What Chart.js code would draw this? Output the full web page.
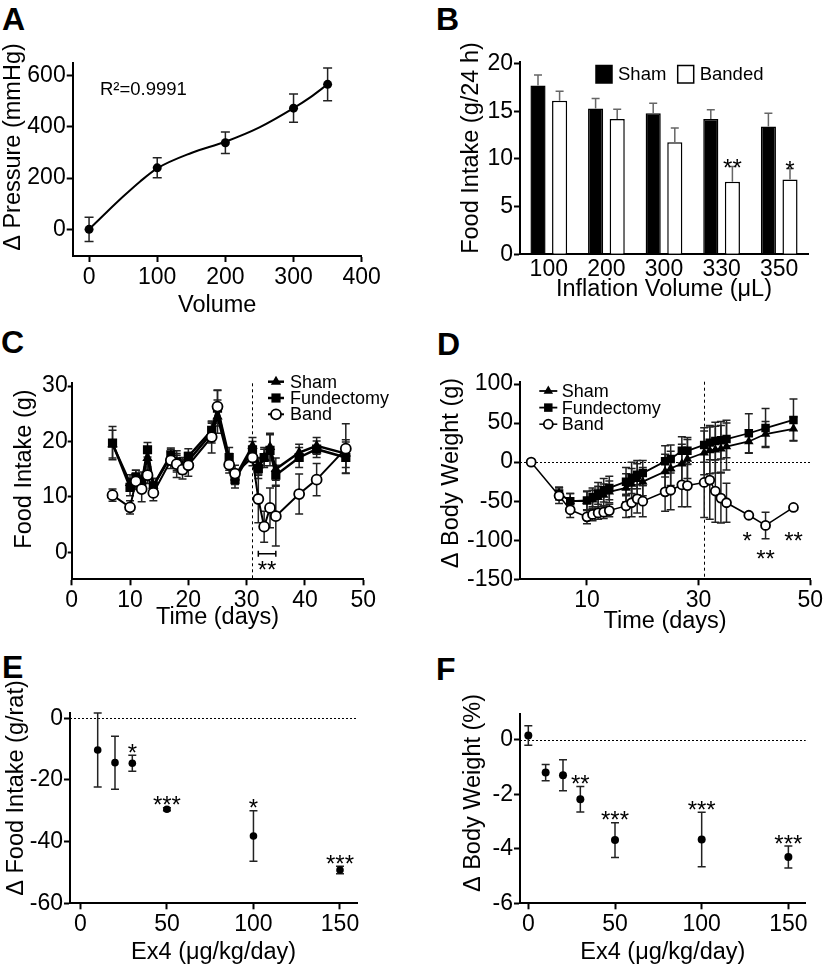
<!DOCTYPE html>
<html>
<head>
<meta charset="utf-8">
<title>Figure</title>
<script src="https://cdn.jsdelivr.net/npm/chart.js@4.4.0/dist/chart.umd.min.js"></script>
<style>
  body { margin: 0; background: #fff; }
  #fig { position: relative; width: 825px; height: 965px; overflow: hidden; font-family: "Liberation Sans", Arial, sans-serif; }
  #fig canvas { position: absolute; }
  .tag { position: absolute; font-weight: bold; font-size: 32px; line-height: 32px; color: #000; }
</style>
</head>
<body>
<div id="fig">
  <div class="tag" style="left:2px;top:3px">A</div>
  <div class="tag" style="left:436px;top:3px">B</div>
  <div class="tag" style="left:1px;top:326px">C</div>
  <div class="tag" style="left:437px;top:328px">D</div>
  <div class="tag" style="left:2px;top:651px">E</div>
  <div class="tag" style="left:436px;top:653px">F</div>
  <canvas id="chartA" width="410" height="320" style="left:0;top:0"></canvas>
  <canvas id="chartB" width="415" height="320" style="left:410px;top:0"></canvas>
  <canvas id="chartC" width="410" height="320" style="left:0;top:320px"></canvas>
  <canvas id="chartD" width="415" height="320" style="left:410px;top:320px"></canvas>
  <canvas id="chartE" width="410" height="325" style="left:0;top:640px"></canvas>
  <canvas id="chartF" width="415" height="325" style="left:410px;top:640px"></canvas>
</div>
<script>
// ---- data ----
// A: pressure vs volume
const volA = [0, 100, 200, 300, 350];
const pressA = [0, 240, 338, 473, 566];
const pressErrA = [47, 39, 42, 55, 64];
// fitted curve
const fitVolA = [0, 25, 50, 75, 100, 150, 200, 250, 300, 325, 350];
const fitPressA = [0, 65, 128, 187, 238, 298, 342, 398, 473, 516, 566];

// B: food intake by inflation volume
const volB = ['100', '200', '300', '330', '350'];
const shamB = [17.7, 15.3, 14.8, 14.2, 13.4];
const shamErrB = [1.1, 1.05, 1.05, 0.95, 1.4];
const bandedB = [16.1, 14.2, 11.75, 7.6, 7.85];
const bandedErrB = [1.0, 1.0, 1.5, 1.6, 1.15];
const sigB = ['', '', '', '**', '*'];

// C: food intake over time
const daysC = [7, 10, 11, 12, 13, 14, 17, 18, 19, 20, 24, 25, 27, 28, 31, 32, 33, 34, 35, 39, 42, 47];
const shamC = [19.5, 12.5, 13.5, 13, 17, 12, 17.3, 16, 15.5, 16.5, 21.5, 24.5, 16.3, 13.5, 19.2, 15.6, 17.1, 19, 15, 18, 19.2, 17.8];
const shamErrC = [2.5, 1.5, 1.3, 1.5, 2, 1.3, 1.3, 1.5, 1.3, 1.5, 1.8, 3, 1.5, 1.3, 1.5, 1.5, 1.5, 2.5, 2, 1.5, 1.5, 2.5];
const fundC = [19.7, 11.7, 13.5, 12.5, 18.5, 12, 17.6, 16.3, 15.6, 17.3, 22, 26, 17.1, 13.1, 18.5, 15.1, 17.1, 18.4, 13.9, 17.1, 18.6, 17.1];
const fundErrC = [3, 1.5, 1.3, 1.4, 1.3, 1.3, 1.2, 1.5, 1.5, 1.4, 1.5, 3.2, 1.8, 1.5, 1.5, 1.8, 1.8, 2.8, 1.8, 1.8, 1.5, 2.8];
const bandC = [10.3, 8.1, 12.8, 11.4, 13.9, 10.7, 16.6, 15.9, 14.9, 15.7, 20.8, 26.3, 15.8, 14.2, 17.1, 9.6, 4.6, 8.0, 6.5, 10.5, 13.1, 18.7];
const bandErrC = [1.1, 1.2, 1.5, 2.3, 1.5, 1.4, 1.5, 2.4, 1.7, 2.0, 2.9, 3.0, 1.5, 1.5, 1.5, 4.3, 2.8, 3.6, 5.4, 3.6, 2.9, 4.5];

// D: body weight change over time
const daysD = [5, 7, 10, 11, 12, 13, 14, 17, 18, 19, 20, 24, 25, 27, 28, 31, 32, 33, 34, 35, 39, 42, 47];
const shamD = [-40, -50, -50, -48, -45, -42, -38, -33, -28, -22, -25, -12, -8, -2, 4, 12, 15, 16, 17, 20, 26.5, 36, 42.7];
const shamErrD = [8, 10, 12, 12, 14, 14, 14, 18, 20, 20, 18, 22, 22, 25, 25, 28, 30, 30, 30, 30, 15, 16, 15];
const fundD = [-40, -50, -49, -45, -40, -36, -33, -25, -20, -16, -14, 1, 4, 14.5, 14.5, 22, 25, 27, 28, 29.5, 37, 43.6, 54];
const fundErrD = [8, 10, 12, 12, 14, 15, 15, 18, 20, 18, 16, 20, 18, 18, 17, 22, 22, 24, 24, 24, 25, 25, 27];
const bandDaysD = [0, 5, 7, 10, 11, 12, 13, 14, 17, 18, 19, 20, 24, 25, 27, 28, 31, 32, 33, 34, 35, 39, 42, 47];
const bandD = [0, -43, -61, -70, -67, -65, -64, -62, -56, -52, -47, -50, -38, -36, -29, -30, -26, -23, -37, -46, -52, -68, -81, -58];
const bandErrD = [0, 10, 10, 9, 8, 8, 8, 8, 15, 18, 18, 20, 25, 25, 28, 27, 45, 50, 40, 32, 25, 0, 17, 0];

// E: food intake vs Ex4 dose
const doseE = [10, 20, 30, 50, 100, 150];
const foodE = [-10.3, -14.4, -14.6, -29.5, -38.2, -49.2];
const foodErrE = [12, 8.6, 2.6, 0.5, 8.2, 1.2];
const sigE = ['', '', '*', '***', '*', '***'];

// F: body weight vs Ex4 dose
const doseF = [0, 10, 20, 30, 50, 100, 150];
const bwF = [0.16, -1.2, -1.3, -2.18, -3.68, -3.66, -4.3];
const bwErrF = [0.36, 0.3, 0.57, 0.47, 0.64, 1.0, 0.4];
const sigF = ['', '', '', '**', '***', '***', '***'];

// ---- helpers ----
const FONT = '"Liberation Sans", Arial, Helvetica, sans-serif';
const STAR = 24;
const TITLE = 23.5;
Chart.defaults.font.family = FONT;
Chart.defaults.color = '#000';
Chart.defaults.animation = false;

const xy = (xs, ys) => xs.map((v, i) => ({ x: v, y: ys[i] }));
const val = d => (typeof d === 'object' ? d.y : d);

function marker(ctx, style, x, y, r, fill, bw) {
  ctx.save();
  ctx.fillStyle = fill; ctx.strokeStyle = '#000'; ctx.lineWidth = bw;
  ctx.beginPath();
  if (style === 'rect') {
    const s = Math.SQRT1_2 * r;
    ctx.rect(x - s, y - s, 2 * s, 2 * s);
  } else if (style === 'triangle') {
    ctx.moveTo(x, y - r);
    ctx.lineTo(x + 0.866 * r, y + 0.5 * r);
    ctx.lineTo(x - 0.866 * r, y + 0.5 * r);
    ctx.closePath();
  } else {
    ctx.arc(x, y, r, 0, Math.PI * 2);
  }
  ctx.fill();
  if (bw) ctx.stroke();
  ctx.restore();
}

function errorBars(chart, i) {
  const ds = chart.data.datasets[i], meta = chart.getDatasetMeta(i);
  const ys = chart.scales.y, ctx = chart.ctx, cap = ds.errCap || 4;
  ctx.save();
  ctx.strokeStyle = ds.errColor || '#222';
  ctx.lineWidth = ds.errWidth || 1.5;
  meta.data.forEach((el, j) => {
    const e = ds.err[j];
    if (!e) return;
    const v = val(ds.data[j]);
    const top = ys.getPixelForValue(v + e);
    const bot = ds.errUp ? el.y : ys.getPixelForValue(v - e);
    ctx.beginPath();
    ctx.moveTo(el.x, top); ctx.lineTo(el.x, bot);
    ctx.moveTo(el.x - cap, top); ctx.lineTo(el.x + cap, top);
    if (!ds.errUp) { ctx.moveTo(el.x - cap, bot); ctx.lineTo(el.x + cap, bot); }
    ctx.stroke();
  });
  ctx.restore();
}

function stars(chart, i, gap) {
  const ds = chart.data.datasets[i], meta = chart.getDatasetMeta(i);
  const ys = chart.scales.y, ctx = chart.ctx;
  ctx.font = STAR + 'px ' + FONT;
  ctx.textAlign = 'center'; ctx.textBaseline = 'alphabetic'; ctx.fillStyle = '#000';
  meta.data.forEach((el, j) => {
    const s = ds.sig[j];
    if (!s) return;
    const top = ys.getPixelForValue(val(ds.data[j]) + (ds.err ? ds.err[j] : 0));
    ctx.fillText(s, el.x, top - gap + 0.44 * STAR);
  });
}

function drawLegend(chart, L) {
  const ctx = chart.ctx;
  ctx.font = L.size + 'px ' + FONT;
  ctx.textAlign = 'left'; ctx.textBaseline = 'middle';
  L.items.forEach((i, k) => {
    const ds = chart.data.datasets[i];
    if (L.box) {
      const bx = L.x + k * L.dx, by = L.y;
      ctx.fillStyle = ds.backgroundColor; ctx.strokeStyle = '#000'; ctx.lineWidth = 1.5;
      ctx.fillRect(bx, by, L.w, L.h); ctx.strokeRect(bx, by, L.w, L.h);
      ctx.fillStyle = '#000';
      ctx.fillText(ds.label, bx + L.w + L.gap, by + L.h / 2 + 1);
    } else {
      const cy = L.y + k * L.dy;
      ctx.strokeStyle = '#000'; ctx.lineWidth = ds.borderWidth;
      ctx.beginPath(); ctx.moveTo(L.x - L.half, cy); ctx.lineTo(L.x + L.half, cy); ctx.stroke();
      marker(ctx, ds.pointStyle, L.x, cy, ds.pointRadius, ds.pointBackgroundColor, ds.pointBorderWidth);
      ctx.fillStyle = '#000';
      ctx.fillText(ds.label, L.tx, cy + 1);
    }
  });
}

const extras = {
  id: 'extras',
  beforeDatasetsDraw(chart, args, o) {
    const { ctx, chartArea: a, scales: { x, y } } = chart;
    ctx.save();
    ctx.lineWidth = 1; ctx.strokeStyle = '#000';
    (o.vlines || []).forEach(v => {
      const px = Math.round(x.getPixelForValue(v)) + 0.5;
      ctx.setLineDash([3, 3]);
      ctx.beginPath(); ctx.moveTo(px, a.top); ctx.lineTo(px, a.bottom); ctx.stroke();
    });
    (o.hlines || []).forEach(v => {
      const py = Math.round(y.getPixelForValue(v)) + 0.5;
      ctx.setLineDash([2, 2]);
      ctx.beginPath(); ctx.moveTo(a.left, py); ctx.lineTo(a.right, py); ctx.stroke();
    });
    ctx.setLineDash([]);
    ctx.restore();
    chart.data.datasets.forEach((ds, i) => { if (ds.err && !ds.errAbove) errorBars(chart, i); });
  },
  afterDatasetsDraw(chart, args, o) {
    const { ctx, scales: { x, y } } = chart;
    chart.data.datasets.forEach((ds, i) => {
      if (ds.err && ds.errAbove) errorBars(chart, i);
      if (ds.sig) stars(chart, i, o.starGap || 5);
    });
    ctx.save();
    ctx.fillStyle = '#000'; ctx.strokeStyle = '#000';
    ctx.font = STAR + 'px ' + FONT;
    ctx.textAlign = 'center'; ctx.textBaseline = 'alphabetic';
    (o.texts || []).forEach(t => {
      ctx.fillText(t.text, x.getPixelForValue(t.x), y.getPixelForValue(t.y) + 0.58 * STAR);
    });
    if (o.bracket) {
      const b = o.bracket, x1 = x.getPixelForValue(b.x1), x2 = x.getPixelForValue(b.x2);
      const py = y.getPixelForValue(b.y);
      ctx.lineWidth = 1.5;
      ctx.beginPath();
      ctx.moveTo(x1, py); ctx.lineTo(x2, py);
      ctx.moveTo(x1, py - 3); ctx.lineTo(x1, py + 3);
      ctx.moveTo(x2, py - 3); ctx.lineTo(x2, py + 3);
      ctx.stroke();
    }
    if (o.note) {
      ctx.font = o.note.size + 'px ' + FONT;
      ctx.textAlign = 'left'; ctx.textBaseline = 'middle';
      ctx.fillText(o.note.text, o.note.x, o.note.y);
    }
    if (o.ytitle) {
      // y axis title, centred where the original figure puts it
      ctx.save();
      ctx.translate(o.ytitle.x, o.ytitle.y);
      ctx.rotate(-Math.PI / 2);
      ctx.font = TITLE + 'px ' + FONT;
      ctx.textAlign = 'center'; ctx.textBaseline = 'middle';
      ctx.fillText(o.ytitle.text, 0, 0);
      ctx.restore();
    }
    if (o.legend) drawLegend(chart, o.legend);
    ctx.restore();
  }
};
Chart.register(extras);

function axis(o) {
  return {
    type: o.type || 'linear',
    min: o.min, max: o.max,
    offset: !!o.offset,
    afterBuildTicks: o.ticks ? s => { s.ticks = o.ticks.map(v => ({ value: v })); } : undefined,
    afterFit: s => { if (s.isHorizontal()) s.height = o.size; else s.width = o.size; },
    grid: { display: !o.noTicks, drawOnChartArea: false, drawTicks: !o.noTicks, tickLength: o.tickLen || 6, tickWidth: 2, tickColor: '#000' },
    border: { display: true, color: '#000', width: 2 },
    ticks: { font: { size: 23 }, color: '#000', padding: o.tickPad == null ? 2 : o.tickPad, autoSkip: false, maxRotation: 0 },
    title: { display: !!o.title, text: o.title, color: '#000', font: { size: TITLE }, padding: { top: o.titlePad, bottom: o.titlePad } }
  };
}

function base(pad, xAxis, yAxis, extra) {
  return {
    responsive: false,
    animation: false,
    events: [],
    layout: { padding: { top: pad[0], right: pad[1], bottom: 0, left: 0 } },
    scales: { x: xAxis, y: yAxis },
    plugins: { legend: { display: false }, tooltip: { enabled: false }, extras: extra || {} }
  };
}

// ---- A ----
new Chart(document.getElementById('chartA'), {
  type: 'line',
  data: {
    datasets: [
      {
        label: 'Pressure',
        data: xy(volA, pressA),
        err: pressErrA, errCap: 4.5,
        showLine: false,
        pointRadius: 4.5, pointBackgroundColor: '#000', pointBorderWidth: 0
      },
      {
        label: 'Fit',
        data: xy(fitVolA, fitPressA),
        borderColor: '#000', borderWidth: 2,
        cubicInterpolationMode: 'monotone',
        pointRadius: 0
      }
    ]
  },
  options: base([63.3, 48.3],
    axis({ min: -24, max: 400, ticks: [0, 100, 200, 300, 400], size: 64, title: 'Volume', titlePad: 0 }),
    axis({ min: -104, max: 648, ticks: [0, 200, 400, 600], size: 72.7, tickPad: 1 }),
    { note: { text: 'R²=0.9991', x: 100, y: 90, size: 18.5 },
      ytitle: { text: 'Δ Pressure (mmHg)', x: 14, y: 147 } })
});

// ---- B ----
new Chart(document.getElementById('chartB'), {
  type: 'bar',
  data: {
    labels: volB,
    datasets: [
      { label: 'Sham', data: shamB, err: shamErrB, errAbove: true, errUp: true, errColor: '#666', errWidth: 1.5,
        backgroundColor: '#000', borderColor: '#000', borderWidth: 1.5 },
      { label: 'Banded', data: bandedB, err: bandedErrB, errAbove: true, errUp: true, errColor: '#666', errWidth: 1.5,
        backgroundColor: '#fff', borderColor: '#000', borderWidth: 1.5, sig: sigB }
    ]
  },
  options: Object.assign(base([61.7, 17],
    axis({ type: 'category', offset: true, noTicks: true, size: 65.7, title: 'Inflation Volume (μL)', titlePad: 16, tickPad: 2 }),
    axis({ min: 0, max: 20.2, ticks: [0, 5, 10, 15, 20], size: 110, tickPad: 1 }),
    { starGap: 1.5, legend: { box: true, items: [0, 1], x: 186, y: 65.5, dx: 81.7, w: 16, h: 17.5, gap: 6, size: 18.5 },
      ytitle: { text: 'Food Intake (g/24 h)', x: 61.7, y: 148 } }),
    { datasets: { bar: { barPercentage: 0.7, categoryPercentage: 0.75 } } })
});

// ---- C ----
const lineSet = (label, pts, err, style, fill, r, lw, order) => ({
  label, data: pts, err, order,
  borderColor: '#000', borderWidth: lw, tension: 0,
  pointStyle: style, pointRadius: r, pointBackgroundColor: fill,
  pointBorderColor: '#000', pointBorderWidth: style === 'circle' ? 1.8 : 0
});

new Chart(document.getElementById('chartC'), {
  type: 'line',
  data: {
    datasets: [
      lineSet('Sham', xy(daysC, shamC), shamErrC, 'triangle', '#000', 6, 2.5, 3),
      lineSet('Fundectomy', xy(daysC, fundC), fundErrC, 'rect', '#000', 6.5, 2.5, 2),
      lineSet('Band', xy(daysC, bandC), bandErrC, 'circle', '#fff', 5, 2, 1)
    ]
  },
  options: base([63.3, 46.7],
    axis({ min: 0, max: 50, ticks: [0, 10, 20, 30, 40, 50], size: 60.7, title: 'Time (days)', titlePad: 8 }),
    axis({ min: -4.9, max: 30.5, ticks: [0, 10, 20, 30], size: 71.7, tickLen: 4, tickPad: 0 }),
    { vlines: [31], bracket: { x1: 32, x2: 35, y: -0.3 }, texts: [{ x: 33.5, y: -2.2, text: '**' }],
      legend: { items: [0, 1, 2], x: 276, y: 61.7, dy: 16.3, half: 8, tx: 290, size: 18 },
      ytitle: { text: 'Food Intake (g)', x: 25, y: 149 } })
});

// ---- D ----
new Chart(document.getElementById('chartD'), {
  type: 'line',
  data: {
    datasets: [
      lineSet('Sham', xy(daysD, shamD), shamErrD, 'triangle', '#000', 5.5, 1.8, 3),
      lineSet('Fundectomy', xy(daysD, fundD), fundErrD, 'rect', '#000', 6, 1.8, 2),
      lineSet('Band', xy(bandDaysD, bandD), bandErrD, 'circle', '#fff', 4.5, 1.5, 1)
    ]
  },
  options: base([61.7, 13.3],
    axis({ min: -2, max: 50, ticks: [10, 30, 50], size: 60.7, title: 'Time (days)', titlePad: 4 }),
    axis({ min: -150, max: 103, ticks: [-150, -100, -50, 0, 50, 100], size: 110, tickPad: 1 }),
    { vlines: [31], hlines: [0],
      texts: [{ x: 38.7, y: -93, text: '*' }, { x: 42, y: -117, text: '**' }, { x: 47, y: -93, text: '**' }],
      legend: { items: [0, 1, 2], x: 138.3, y: 71, dy: 16.6, half: 9, tx: 151.7, size: 18 },
      ytitle: { text: 'Δ Body Weight (g)', x: 41.7, y: 153 } })
});

// ---- E ----
new Chart(document.getElementById('chartE'), {
  type: 'scatter',
  data: {
    datasets: [{
      label: 'Food intake', data: xy(doseE, foodE), err: foodErrE, sig: sigE,
      pointRadius: 3.8, pointBackgroundColor: '#000', pointBorderWidth: 0, showLine: false
    }]
  },
  options: base([72.7, 52.7],
    axis({ min: -6, max: 160, ticks: [0, 50, 100, 150], size: 61.7, title: 'Ex4 (μg/kg/day)', titlePad: -2 }),
    axis({ min: -60, max: 1.8, ticks: [-60, -40, -20, 0], size: 70, tickPad: 1 }),
    { hlines: [0], starGap: 5, ytitle: { text: 'Δ Food Intake (g/rat)', x: 16.7, y: 148 } })
});

// ---- F ----
new Chart(document.getElementById('chartF'), {
  type: 'scatter',
  data: {
    datasets: [{
      label: 'Body weight', data: xy(doseF, bwF), err: bwErrF, sig: sigF,
      pointRadius: 4, pointBackgroundColor: '#000', pointBorderWidth: 0, showLine: false
    }]
  },
  options: base([74, 19.3],
    axis({ min: -4.8, max: 160, ticks: [0, 50, 100, 150], size: 61.7, title: 'Ex4 (μg/kg/day)', titlePad: -2 }),
    axis({ min: -6, max: 0.95, ticks: [-6, -4, -2, 0], size: 110, tickPad: 1 }),
    { hlines: [0], starGap: 5, ytitle: { text: 'Δ Body Weight (%)', x: 63.3, y: 153 } })
});
</script>
</body>
</html>
